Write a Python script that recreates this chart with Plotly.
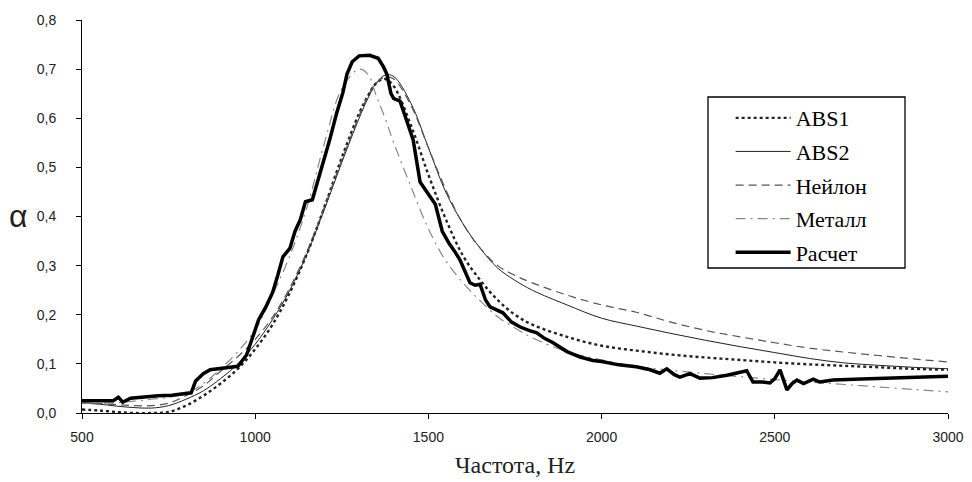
import plotly.graph_objects as go

# ---- data ----
freq_smooth = [500, 550, 600, 650, 700, 750, 800, 850, 900, 950, 1000, 1050, 1100, 1150, 1200,
               1250, 1300, 1325, 1350, 1375, 1400, 1450, 1500, 1550, 1600, 1650, 1700, 1750,
               1800, 1900, 2000, 2100, 2200, 2300, 2400, 2500, 2600, 2700, 2800, 2900, 3000]

abs1 = [0.007, 0.005, 0.002, 0.0, 0.0, 0.002, 0.015, 0.035, 0.06, 0.09, 0.13, 0.18, 0.245, 0.325,
        0.42, 0.52, 0.61, 0.645, 0.672, 0.68, 0.665, 0.585, 0.485, 0.395, 0.32, 0.27, 0.23, 0.2,
        0.18, 0.155, 0.137, 0.127, 0.119, 0.113, 0.108, 0.103, 0.099, 0.096, 0.093, 0.09, 0.088]

abs2 = [0.02, 0.018, 0.014, 0.011, 0.01, 0.015, 0.028, 0.045, 0.07, 0.1, 0.14, 0.19, 0.25, 0.325,
        0.415, 0.51, 0.6, 0.64, 0.672, 0.688, 0.685, 0.63, 0.54, 0.45, 0.385, 0.335, 0.295, 0.27,
        0.25, 0.22, 0.193, 0.177, 0.162, 0.148, 0.135, 0.123, 0.111, 0.102, 0.097, 0.093, 0.09]

nylon = [0.02, 0.019, 0.017, 0.015, 0.015, 0.02, 0.035, 0.055, 0.085, 0.115, 0.15, 0.195, 0.255,
         0.33, 0.42, 0.515, 0.605, 0.645, 0.672, 0.684, 0.68, 0.625, 0.54, 0.455, 0.385, 0.335,
         0.3, 0.28, 0.265, 0.24, 0.22, 0.205, 0.185, 0.168, 0.155, 0.143, 0.132, 0.124, 0.117,
         0.11, 0.104]

metal = [0.02, 0.02, 0.021, 0.024, 0.028, 0.032, 0.04, 0.06, 0.09, 0.125, 0.17, 0.24, 0.32, 0.42,
         0.55, 0.66, 0.70, 0.69, 0.645, 0.6, 0.55, 0.46, 0.375, 0.31, 0.265, 0.228, 0.196, 0.173,
         0.153, 0.125, 0.108, 0.095, 0.087, 0.08, 0.074, 0.068, 0.063, 0.058, 0.053, 0.048, 0.043]

freq_calc = [500, 590, 605, 618, 640, 680, 720, 760, 800, 815, 828, 850, 870, 910, 950, 975, 993,
             1010, 1030, 1050, 1065, 1080, 1100, 1115, 1130, 1145, 1165, 1180, 1200, 1215, 1235,
             1253, 1265, 1280, 1300, 1330, 1355, 1370, 1380, 1392, 1400, 1418, 1435, 1456, 1476,
             1490, 1520, 1540, 1560, 1575, 1591, 1620, 1635, 1649, 1665, 1678, 1695, 1715, 1740,
             1765, 1790, 1813, 1835, 1860, 1900, 1938, 1975, 2000, 2050, 2100, 2140, 2168, 2188,
             2210, 2226, 2255, 2284, 2320, 2362, 2400, 2419, 2437, 2465, 2486, 2500, 2515, 2525,
             2535, 2550, 2564, 2583, 2600, 2611, 2630, 2650, 2668, 2750, 2862, 2950, 3000]
calc = [0.025, 0.025, 0.032, 0.022, 0.03, 0.033, 0.035, 0.036, 0.04, 0.041, 0.065, 0.08, 0.088,
        0.092, 0.095, 0.118, 0.155, 0.19, 0.215, 0.245, 0.28, 0.318, 0.335, 0.37, 0.393, 0.43,
        0.434, 0.47, 0.52, 0.556, 0.61, 0.652, 0.69, 0.715, 0.727, 0.728, 0.722, 0.705, 0.69,
        0.65, 0.64, 0.635, 0.6, 0.556, 0.47, 0.455, 0.425, 0.37, 0.345, 0.33, 0.312, 0.265, 0.26,
        0.262, 0.23, 0.216, 0.21, 0.204, 0.185, 0.175, 0.168, 0.163, 0.152, 0.143, 0.125, 0.114,
        0.107, 0.105, 0.098, 0.094, 0.088, 0.081, 0.09, 0.078, 0.073, 0.08, 0.071, 0.072, 0.077,
        0.083, 0.086, 0.063, 0.063, 0.061, 0.07, 0.088, 0.065, 0.047, 0.06, 0.067, 0.06, 0.065,
        0.069, 0.063, 0.066, 0.067, 0.069, 0.071, 0.073, 0.075]

series_names = ["ABS1", "ABS2", "Нейлон", "Металл", "Расчет"]
x_ticks = [500, 1000, 1500, 2000, 2500, 3000]
y_ticks = [0.0, 0.1, 0.2, 0.3, 0.4, 0.5, 0.6, 0.7, 0.8]

SERIF = "Liberation Serif, Times New Roman, serif"
SANS = "Liberation Sans, Arial, sans-serif"

styles = [
    (freq_smooth, abs1, dict(color="#222222", width=2.4, dash="dot"), "spline"),
    (freq_smooth, abs2, dict(color="#222222", width=1), "spline"),
    (freq_smooth, nylon, dict(color="#555555", width=1.2, dash="8px,5px"), "spline"),
    (freq_smooth, metal, dict(color="#888888", width=1.2, dash="10px,5px,2px,5px"), "spline"),
    (freq_calc, calc, dict(color="#000000", width=3.5), "linear"),
]

fig = go.Figure()
for i, (name, (xs, ys, line, shape)) in enumerate(zip(series_names, styles)):
    line = dict(line)
    line["shape"] = shape
    fig.add_trace(go.Scatter(x=xs, y=ys, mode="lines", name=name, line=line,
                             legendgroup=f"g{i}"))

fig.update_layout(
    width=964, height=474,
    margin=dict(l=74, r=24, t=12, b=69, autoexpand=False),
    paper_bgcolor="white", plot_bgcolor="white",
    separators=", ",
    showlegend=True,
    font=dict(family=SERIF, size=21, color="black"),
    legend=dict(x=0.749, y=0.804, xanchor="left", yanchor="top",
                borderwidth=0, bgcolor="rgba(0,0,0,0)",
                font=dict(family=SERIF, size=22, color="black"),
                itemwidth=55, tracegroupgap=2, traceorder="grouped"),
)
# legend frame
fig.add_shape(type="rect", xref="paper", yref="paper",
              x0=(708 - 82) / 866, x1=(905 - 82) / 866,
              y0=(413 - 268) / 393, y1=(413 - 97) / 393,
              line=dict(color="black", width=1.3), fillcolor="white", layer="below")

fig.update_xaxes(range=[500, 3000], tickvals=x_ticks, showgrid=False, zeroline=False,
                 showline=True, linecolor="black", linewidth=1, ticks="outside", ticklen=5,
                 tickcolor="black", ticklabelstandoff=6, automargin=False,
                 tickfont=dict(family=SANS, size=14, color="#222"))
fig.update_yaxes(range=[0, 0.8], tickvals=y_ticks, tickformat=".1f", showgrid=False, zeroline=False,
                 showline=True, linecolor="black", linewidth=1, ticks="outside", ticklen=5,
                 tickcolor="black", ticklabelstandoff=17, automargin=False,
                 tickfont=dict(family=SANS, size=14, color="#222"))
fig.add_annotation(text="Частота, Hz", xref="paper", yref="paper", x=0.5, y=-52 / 393,
                   xanchor="center", yanchor="middle", showarrow=False,
                   font=dict(family=SERIF, size=24, color="#222"))
fig.add_annotation(text="α", xref="paper", yref="paper", x=(18 - 82) / 866, y=(413 - 216) / 393,
                   xanchor="center", yanchor="middle", showarrow=False,
                   font=dict(family=SANS, size=32, color="#222"))

fig.write_html("out.html")
